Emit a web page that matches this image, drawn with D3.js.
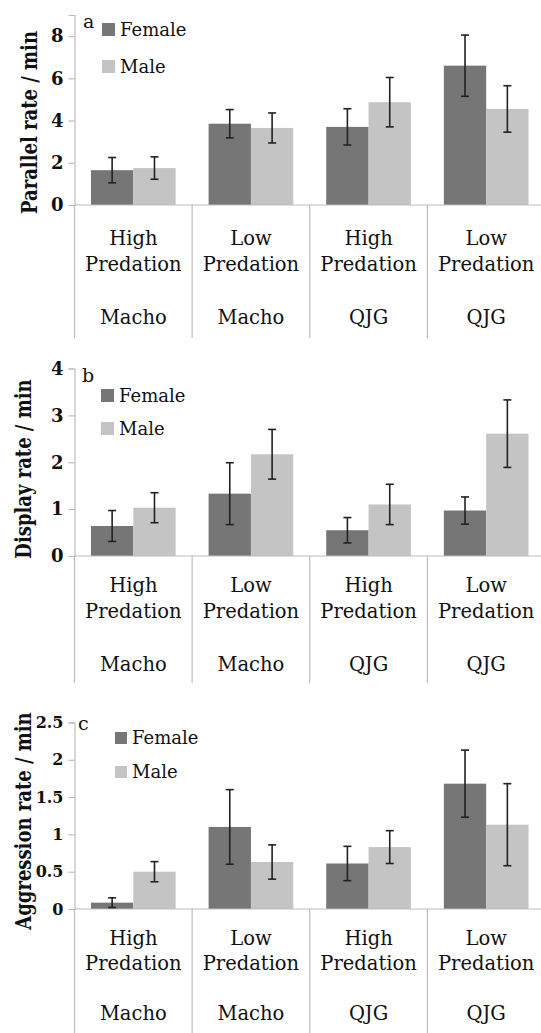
<!DOCTYPE html>
<html>
<head>
<meta charset="utf-8">
<script src="https://cdn.jsdelivr.net/npm/d3@7"></script>
<style>
  body { margin: 0; background: #fff; }
  svg text { font-family: 'DejaVu Serif', serif; fill: #111; }
</style>
</head>
<body>
<div id="chart"></div>
<script>
// Category labels
const predation = ['High', 'Low', 'High', 'Low']
const sites = ['Macho', 'Macho', 'QJG', 'QJG']
const series = ['Female', 'Male']
const titles = ['Parallel rate / min', 'Display rate / min', 'Aggression rate / min']
const letters = ['a', 'b', 'c']

// Panel a - parallel swimming
const parallelFemale = [1.65, 3.85, 3.70, 6.60]
const parallelFemaleErr = [0.60, 0.67, 0.86, 1.45]
const parallelMale = [1.75, 3.65, 4.87, 4.55]
const parallelMaleErr = [0.53, 0.71, 1.17, 1.10]
const parallelTicks = [0, 2, 4, 6, 8]

// Panel b - display
const displayFemale = [0.64, 1.33, 0.55, 0.97]
const displayFemaleErr = [0.33, 0.66, 0.27, 0.29]
const displayMale = [1.03, 2.17, 1.10, 2.61]
const displayMaleErr = [0.32, 0.53, 0.43, 0.72]
const displayTicks = [0, 1, 2, 3, 4]

// Panel c - aggression
const aggrFemale = [0.085, 1.10, 0.61, 1.68]
const aggrFemaleErr = [0.065, 0.50, 0.23, 0.45]
const aggrMale = [0.50, 0.63, 0.83, 1.13]
const aggrMaleErr = [0.135, 0.23, 0.22, 0.55]
const aggrTicks = [0, 0.5, 1, 1.5, 2, 2.5]

const width = 541
const height = 1033
const colors = { Female: '#767676', Male: '#c4c4c4' }
const gridColor = '#bdbdbd'

const svg = d3.select('#chart')
  .append('svg')
  .attr('width', width)
  .attr('height', height)

// Layout of each panel (data comes from the arrays above)
const panels = [
  {
    female: parallelFemale, femaleErr: parallelFemaleErr,
    male: parallelMale, maleErr: parallelMaleErr,
    ticks: parallelTicks, max: 9, tickFont: 18,
    y0: 205, yTop: 15, bottom: 338,
    labelDy: [40, 66, 119],
    letterPos: [83, 28], legend: [102, 23, 13, 37], titlePos: [37, 122.5]
  },
  {
    female: displayFemale, femaleErr: displayFemaleErr,
    male: displayMale, maleErr: displayMaleErr,
    ticks: displayTicks, max: 4, tickFont: 18,
    y0: 556, yTop: 368.5, bottom: 683,
    labelDy: [36, 62, 115],
    letterPos: [82, 382], legend: [101, 389, 13, 33], titlePos: [31, 469]
  },
  {
    female: aggrFemale, femaleErr: aggrFemaleErr,
    male: aggrMale, maleErr: aggrMaleErr,
    ticks: aggrTicks, max: 2.5, tickFont: 16,
    y0: 909, yTop: 722.5, bottom: 1040,
    labelDy: [36, 61, 111],
    letterPos: [78, 730], legend: [115, 732, 12, 34], titlePos: [31, 821]
  }
]

const axisX = 74.5
const plotRight = 545

panels.forEach((p, pi) => {
  const g = svg.append('g')

  const x = d3.scaleBand()
    .domain(d3.range(predation.length))
    .range([axisX, plotRight])
  const bw = x.bandwidth()
  const x1 = d3.scaleBand()
    .domain(series)
    .range([bw * 0.14, bw * 0.86])

  const y = d3.scaleLinear()
    .domain([0, p.max])
    .range([p.y0, p.yTop])

  // Rows of data for bars
  const rows = []
  predation.forEach((_, i) => {
    rows.push({ cat: i, s: 'Female', v: p.female[i], e: p.femaleErr[i] })
    rows.push({ cat: i, s: 'Male', v: p.male[i], e: p.maleErr[i] })
  })

  // Category separators (extend below the baseline)
  const bounds = d3.range(predation.length).map(i => x(i)).concat([x(predation.length - 1) + bw])
  g.selectAll('.sep')
    .data(bounds)
    .enter().append('line')
    .attr('x1', d => d).attr('x2', d => d)
    .attr('y1', p.y0).attr('y2', p.bottom)
    .attr('stroke', gridColor)
    .attr('stroke-width', 1.2)

  // Left axis
  const axis = g.append('g')
    .attr('transform', `translate(${axisX}, 0)`)
    .call(d3.axisLeft(y).tickValues(p.ticks).tickFormat(d => String(d)).tickSizeOuter(0).tickSize(6).tickPadding(5))
  axis.select('.domain').attr('stroke', gridColor).attr('stroke-width', 1.2)
  axis.selectAll('.tick line').attr('stroke', gridColor).attr('stroke-width', 1.2)
  axis.selectAll('.tick text')
    .attr('font-family', 'DejaVu Serif')
    .attr('font-size', p.tickFont)
    .attr('font-weight', 'bold')
    .attr('fill', '#111')

  // Bars
  g.selectAll('.bar')
    .data(rows)
    .enter().append('rect')
    .attr('x', d => x(d.cat) + x1(d.s))
    .attr('y', d => y(d.v))
    .attr('width', x1.bandwidth())
    .attr('height', d => y(0) - y(d.v))
    .attr('fill', d => colors[d.s])

  // Baseline
  g.append('line')
    .attr('x1', axisX).attr('x2', plotRight)
    .attr('y1', y(0)).attr('y2', y(0))
    .attr('stroke', gridColor)
    .attr('stroke-width', 1.2)

  // Error bars
  const eb = g.selectAll('.err')
    .data(rows)
    .enter().append('g')
    .attr('transform', d => `translate(${x(d.cat) + x1(d.s) + x1.bandwidth() / 2}, 0)`)
    .attr('stroke', '#222')
    .attr('stroke-width', 1.6)
  eb.append('line')
    .attr('y1', d => y(d.v + d.e)).attr('y2', d => y(Math.max(0, d.v - d.e)))
  eb.append('line')
    .attr('x1', -4).attr('x2', 4)
    .attr('y1', d => y(d.v + d.e)).attr('y2', d => y(d.v + d.e))
  eb.append('line')
    .attr('x1', -4).attr('x2', 4)
    .attr('y1', d => y(Math.max(0, d.v - d.e))).attr('y2', d => y(Math.max(0, d.v - d.e)))

  // Category labels
  const lab = g.selectAll('.lab')
    .data(predation)
    .enter().append('g')
    .attr('transform', (d, i) => `translate(${x(i) + bw / 2}, ${p.y0})`)
  lab.append('text')
    .attr('y', p.labelDy[0])
    .attr('text-anchor', 'middle')
    .attr('font-size', 19.5)
    .text(d => d)
  lab.append('text')
    .attr('y', p.labelDy[1])
    .attr('text-anchor', 'middle')
    .attr('font-size', 19.5)
    .text('Predation')
  lab.append('text')
    .attr('y', p.labelDy[2])
    .attr('text-anchor', 'middle')
    .attr('font-size', 19.5)
    .text((d, i) => sites[i])

  // Y axis title (glyphs a bit stretched, like the source figure)
  g.append('text')
    .attr('transform', `translate(${p.titlePos[0]}, ${p.titlePos[1]}) rotate(-90) scale(1, 1.25)`)
    .attr('text-anchor', 'middle')
    .attr('font-size', 18)
    .attr('font-weight', 'bold')
    .text(titles[pi])

  // Panel letter
  g.append('text')
    .attr('x', p.letterPos[0])
    .attr('y', p.letterPos[1])
    .attr('font-family', 'Liberation Serif')
    .attr('font-size', 19)
    .text(letters[pi])

  // Legend
  const [lx, ly, sz, step] = p.legend
  series.forEach((s, i) => {
    g.append('rect')
      .attr('x', lx).attr('y', ly + i * step)
      .attr('width', sz).attr('height', sz)
      .attr('fill', colors[s])
    g.append('text')
      .attr('x', lx + sz + 5)
      .attr('y', ly + i * step + sz)
      .attr('font-size', 18)
      .text(s)
  })
})
</script>
</body>
</html>
